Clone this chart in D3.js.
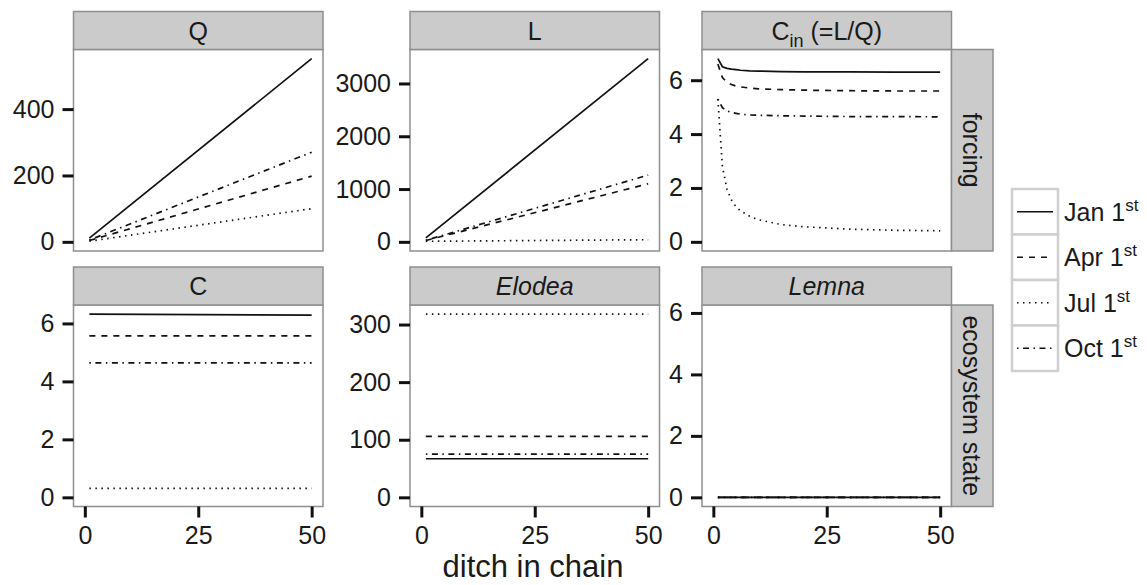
<!DOCTYPE html>
<html>
<head>
<meta charset="utf-8">
<style>
  body { margin: 0; background: #fff; }
  text { font-family: "Liberation Sans", Arial, sans-serif; fill: #1a1a1a; }
</style>
</head>
<body>
<svg width="1147" height="585"></svg>
<script src="https://cdn.jsdelivr.net/npm/d3@7/dist/d3.min.js"></script>
<script>
// one line per simulated date
var dates = ["Jan", "Apr", "Jul", "Oct"];

var xEnds = [1, 50];
var qJan = [11, 552], qApr = [4, 198], qJul = [2, 100], qOct = [5.4, 270];
var lJan = [75, 3470], lApr = [26, 1100], lJul = [10.6, 40], lOct = [29, 1265];

// C_in curves, estimated at these ditches
var xCin = [1, 2, 3, 4, 5, 6, 8, 10, 15, 20, 30, 40, 50];
var cinJan = [6.8, 6.5, 6.44, 6.41, 6.39, 6.37, 6.35, 6.34, 6.32, 6.31, 6.31, 6.3, 6.3];
var cinApr = [6.6, 6.1, 5.92, 5.84, 5.78, 5.75, 5.71, 5.68, 5.65, 5.63, 5.61, 5.6, 5.6];
var cinJul = [5.3, 2.8, 1.95, 1.55, 1.3, 1.15, 0.95, 0.82, 0.64, 0.56, 0.47, 0.43, 0.41];
var cinOct = [5.3, 4.98, 4.86, 4.8, 4.77, 4.74, 4.71, 4.7, 4.68, 4.67, 4.65, 4.65, 4.64];

// ecosystem state (flat along the chain)
var cJan = [6.32, 6.29], cApr = [5.57, 5.57], cJul = [0.31, 0.31], cOct = [4.64, 4.64];
var elJan = [67, 67], elApr = [106, 106], elJul = [318, 318], elOct = [75, 75];
var lmJan = [0, 0], lmApr = [0, 0], lmJul = [0, 0], lmOct = [0, 0];

// tick labels
var xTicks = [0, 25, 50];
var qTicks = [0, 200, 400];
var lTicks = [0, 1000, 2000, 3000];
var cinTicks = [0, 2, 4, 6];
var cTicks = [0, 2, 4, 6];
var elTicks = [0, 100, 200, 300];
var lmTicks = [0, 2, 4, 6];

var rowLabels = ["forcing", "ecosystem state"];

var panels = [
  { title: "Q", row: 0, col: 0, x: xEnds, ys: [qJan, qApr, qJul, qOct], ticks: qTicks },
  { title: "L", row: 0, col: 1, x: xEnds, ys: [lJan, lApr, lJul, lOct], ticks: lTicks },
  { title: "Cin", row: 0, col: 2, x: xCin, ys: [cinJan, cinApr, cinJul, cinOct], ticks: cinTicks },
  { title: "C", row: 1, col: 0, x: xEnds, ys: [cJan, cApr, cJul, cOct], ticks: cTicks },
  { title: "Elodea", italic: true, row: 1, col: 1, x: xEnds, ys: [elJan, elApr, elJul, elOct], ticks: elTicks },
  { title: "Lemna", italic: true, row: 1, col: 2, x: xEnds, ys: [lmJan, lmApr, lmJul, lmOct], ticks: lmTicks, limit: 5.96 }
];

// layout
var svg = d3.select("svg");
var lefts = [73.5, 410, 702], pw = 249.5;
var stripTops = [11.5, 267], stripH = 38, ph = 201.5;
var dashes = [null, "6,6", "1.5,4.5", "1.5,4.5,6,4.5"];
var grey = "#8e8e8e", stripFill = "#cbcbcb";
var fs = 25;

function pad(d) {
  var e = (d[1] - d[0]) * 0.05;
  return [d[0] - e, d[1] + e];
}

panels.forEach(function(p) {
  var left = lefts[p.col];
  var top = stripTops[p.row] + stripH;
  var bottom = top + ph;

  var x = d3.scaleLinear().domain(pad([0, 50])).range([left, left + pw]);
  var ymax = p.limit || d3.max(p.ys, function(s) { return d3.max(s); });
  var y = d3.scaleLinear().domain(pad([0, ymax])).range([bottom, top]);

  var g = svg.append("g");
  g.append("rect")
    .attr("x", left).attr("y", top).attr("width", pw).attr("height", ph)
    .attr("fill", "#fff");

  var line = d3.line()
    .x(function(d, i) { return x(p.x[i]); })
    .y(function(d) { return y(d); });

  p.ys.forEach(function(s, k) {
    g.append("path")
      .attr("d", line(s))
      .attr("fill", "none")
      .attr("stroke", "#111")
      .attr("stroke-width", 1.7)
      .attr("stroke-dasharray", dashes[k]);
  });

  g.append("rect")
    .attr("x", left).attr("y", top).attr("width", pw).attr("height", ph)
    .attr("fill", "none").attr("stroke", grey).attr("stroke-width", 1.5);

  // strip on top
  g.append("rect")
    .attr("x", left).attr("y", stripTops[p.row]).attr("width", pw).attr("height", stripH)
    .attr("fill", stripFill).attr("stroke", grey).attr("stroke-width", 1.5);
  var st = g.append("text")
    .attr("x", left + pw / 2)
    .attr("y", stripTops[p.row] + stripH / 2)
    .attr("dy", "0.36em")
    .attr("text-anchor", "middle")
    .attr("font-size", fs)
    .attr("font-style", p.italic ? "italic" : null);
  if (p.title === "Cin") {
    st.append("tspan").text("C");
    st.append("tspan").attr("font-size", 18).attr("dy", 7).text("in");
    st.append("tspan").attr("dy", -7).text(" (=L/Q)");
  } else {
    st.text(p.title);
  }

  // y axis
  var ya = g.append("g")
    .attr("transform", "translate(" + left + ",0)")
    .call(d3.axisLeft(y).tickValues(p.ticks).tickSize(11).tickPadding(8).tickFormat(d3.format("d")));
  ya.select(".domain").remove();
  ya.selectAll("line").attr("stroke", "#111").attr("stroke-width", 3);
  ya.selectAll("text").attr("font-size", fs).attr("fill", "#1a1a1a");
  ya.attr("font-family", null).attr("font-size", null);

  // x axis on the bottom row only
  if (p.row === 1) {
    var xa = g.append("g")
      .attr("transform", "translate(0," + bottom + ")")
      .call(d3.axisBottom(x).tickValues(xTicks).tickSize(11).tickPadding(9));
    xa.select(".domain").remove();
    xa.selectAll("line").attr("stroke", "#111").attr("stroke-width", 3);
    xa.selectAll("text").attr("font-size", fs).attr("fill", "#1a1a1a");
    xa.attr("font-family", null).attr("font-size", null);
  }

  // row strip on the right
  if (p.col === 2) {
    var sx = left + pw;
    g.append("rect")
      .attr("x", sx).attr("y", top).attr("width", 41.5).attr("height", ph)
      .attr("fill", stripFill).attr("stroke", grey).attr("stroke-width", 1.5);
    g.append("text")
      .attr("transform", "translate(" + (sx + 20.75) + "," + (top + ph / 2) + ") rotate(90)")
      .attr("dy", "0.36em")
      .attr("text-anchor", "middle")
      .attr("font-size", fs)
      .text(rowLabels[p.row]);
  }
});

// x axis title
svg.append("text")
  .attr("x", 533).attr("y", 577)
  .attr("text-anchor", "middle")
  .attr("font-size", 31)
  .text("ditch in chain");

// legend
var keyH = 45.5, keyW = 46, lx = 1012, ly = 189;
var leg = svg.append("g");
dates.forEach(function(d, k) {
  var ky = ly + k * keyH;
  leg.append("rect")
    .attr("x", lx).attr("y", ky).attr("width", keyW).attr("height", keyH)
    .attr("fill", "#fff").attr("stroke", "#cfcfcf").attr("stroke-width", 2.5);
  leg.append("line")
    .attr("x1", lx + 5).attr("x2", lx + keyW - 5)
    .attr("y1", ky + keyH / 2).attr("y2", ky + keyH / 2)
    .attr("stroke", "#111").attr("stroke-width", 1.7)
    .attr("stroke-dasharray", dashes[k]);
  var t = leg.append("text")
    .attr("x", lx + keyW + 6).attr("y", ky + keyH / 2 + 9)
    .attr("font-size", fs);
  t.append("tspan").text(d + " 1");
  t.append("tspan").attr("font-size", 17).attr("dy", -10).text("st");
});
</script>
</body>
</html>
